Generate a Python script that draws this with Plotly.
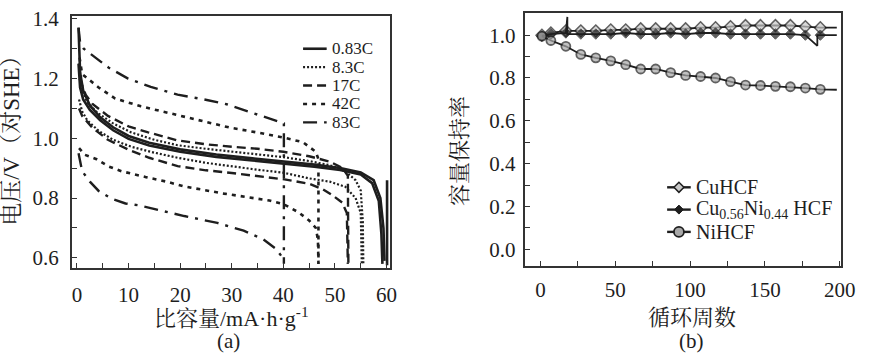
import plotly.graph_objects as go

W, H = 873, 356
FONT = "Liberation Serif, Noto Serif CJK SC, Noto Sans CJK SC, serif"
INK = "#1e1e1e"

# ---------------- panel (a): voltage vs specific capacity ----------------
rates = ["0.83C", "8.3C", "17C", "42C", "83C"]

c083_up_x = [0.3, 0.6, 1.2, 2.5, 4.5, 7, 10, 14, 20, 27, 34, 40, 46, 51, 55, 57.5, 58.8, 59.4, 59.6]
c083_up_y = [1.37, 1.22, 1.16, 1.11, 1.07, 1.037, 1.008, 0.985, 0.963, 0.946, 0.933, 0.923, 0.912, 0.901, 0.886, 0.86, 0.80, 0.70, 0.59]
c083_lo_x = [0.3, 0.6, 1.2, 2.5, 4.5, 7, 10, 14, 20, 27, 34, 40, 46, 51, 55, 57.2, 58.5, 59.0, 59.2]
c083_lo_y = [1.25, 1.17, 1.13, 1.095, 1.06, 1.027, 0.998, 0.976, 0.955, 0.938, 0.926, 0.916, 0.905, 0.894, 0.879, 0.85, 0.79, 0.68, 0.58]
c083_end_x = [60.1, 60.1]
c083_end_y = [0.86, 0.575]

c83_up_x = [0.4, 1, 2, 4, 7, 10.5, 15, 19.5, 25, 30, 35, 40, 45, 49, 52, 54, 55, 55.4, 55.5]
c83_up_y = [1.25, 1.16, 1.12, 1.085, 1.05, 1.02, 0.995, 0.977, 0.965, 0.955, 0.946, 0.937, 0.924, 0.91, 0.89, 0.86, 0.825, 0.72, 0.58]
c83_lo_x = [0.4, 1, 2, 4.2, 7, 10.5, 15, 19.5, 25, 30, 35, 40, 45, 49, 52, 54, 55, 55.2]
c83_lo_y = [1.13, 1.09, 1.06, 1.025, 0.995, 0.972, 0.952, 0.935, 0.918, 0.906, 0.895, 0.885, 0.866, 0.855, 0.838, 0.80, 0.75, 0.58]

c17_up_x = [0.5, 1.7, 3, 6, 10, 13.8, 19.5, 25, 30, 35, 40, 45, 49, 51.5, 52.5, 52.6]
c17_up_y = [1.2, 1.145, 1.115, 1.075, 1.04, 1.02, 0.993, 0.98, 0.972, 0.965, 0.955, 0.94, 0.922, 0.9, 0.875, 0.58]
c17_lo_x = [0.4, 1, 3, 6, 10, 14, 19.5, 25, 30, 35, 40.5, 45, 47.6, 49.5, 51.4, 52.3, 52.5]
c17_lo_y = [1.1, 1.075, 1.035, 0.995, 0.962, 0.935, 0.907, 0.893, 0.884, 0.874, 0.862, 0.848, 0.83, 0.81, 0.785, 0.75, 0.58]

c42_up_x = [0.5, 1, 4.2, 7.4, 12.4, 17.6, 23.9, 29.6, 34.8, 39.9, 43.8, 46.3, 46.8, 46.8]
c42_up_y = [1.27, 1.215, 1.17, 1.133, 1.107, 1.085, 1.06, 1.036, 1.02, 1.003, 0.987, 0.955, 0.93, 0.58]
c42_lo_x = [0.4, 1.5, 3.8, 6.1, 8.6, 10.9, 13.4, 17.6, 20.5, 28.5, 33, 37.3, 40, 43, 45, 46.3, 46.7, 46.8]
c42_lo_y = [0.967, 0.945, 0.93, 0.906, 0.89, 0.88, 0.87, 0.854, 0.84, 0.815, 0.803, 0.792, 0.78, 0.752, 0.725, 0.70, 0.66, 0.58]

c830_up_x = [0.3, 0.6, 1.3, 6.1, 9.9, 14.3, 19.5, 24.7, 29, 34.2, 38.6, 40.1, 40.1]
c830_up_y = [1.37, 1.32, 1.30, 1.237, 1.2, 1.172, 1.146, 1.13, 1.114, 1.085, 1.059, 1.05, 0.58]
c830_lo_x = [0.3, 1, 2.5, 4.2, 6.7, 9.4, 11.9, 14.3, 17, 20.8, 27.2, 32.3, 36.1, 38.6, 40]
c830_lo_y = [0.95, 0.89, 0.855, 0.824, 0.798, 0.782, 0.776, 0.766, 0.756, 0.74, 0.717, 0.691, 0.662, 0.63, 0.597]

curves = {
    "0.83C": [(c083_up_x, c083_up_y), (c083_lo_x, c083_lo_y), (c083_end_x, c083_end_y)],
    "8.3C": [(c83_up_x, c83_up_y), (c83_lo_x, c83_lo_y)],
    "17C": [(c17_up_x, c17_up_y), (c17_lo_x, c17_lo_y)],
    "42C": [(c42_up_x, c42_up_y), (c42_lo_x, c42_lo_y)],
    "83C": [(c830_up_x, c830_up_y), (c830_lo_x, c830_lo_y)],
}
styles = {
    "0.83C": dict(dash="solid", width=2.6),
    "8.3C": dict(dash="2px,2px", width=2.2),
    "17C": dict(dash="9px,5px", width=2.4),
    "42C": dict(dash="4px,5px", width=2.6),
    "83C": dict(dash="14px,7px,3px,7px", width=2.4),
}

# ---------------- panel (b): capacity retention vs cycle number ----------------
cycles = [1, 7, 17, 27, 37, 47, 57, 67, 77, 87, 97, 107, 117, 127, 137, 147, 157, 167, 177, 187, 198]
cuhcf = [1.0, 1.01, 1.02, 1.02, 1.02, 1.025, 1.025, 1.03, 1.03, 1.03, 1.03, 1.035, 1.035, 1.04, 1.045,
         1.045, 1.045, 1.045, 1.04, 1.035, 1.035]
nihcf = [0.995, 0.975, 0.948, 0.91, 0.894, 0.88, 0.862, 0.842, 0.842, 0.825, 0.812, 0.807, 0.8, 0.783,
         0.767, 0.765, 0.761, 0.759, 0.753, 0.747, 0.745]
# Cu0.56Ni0.44 HCF, including the two single-cycle spikes visible near cycles 18 and 185
cuni_cycles = [1, 7, 17, 18, 18, 27, 37, 47, 57, 67, 77, 87, 97, 107, 117, 127, 137, 147, 157, 167, 177,
               185, 185, 187, 198]
cuni = [0.995, 1.005, 1.01, 1.085, 1.005, 1.005, 1.005, 1.005, 1.01, 1.005, 1.005, 1.01, 1.005, 1.01,
        1.01, 1.005, 1.005, 1.005, 1.005, 1.005, 1.0, 0.95, 1.0, 1.0, 1.0]
cuni_marked = [True, True, True, False, False] + [True] * 16 + [False, False, True, False]

series_b = [
    ("CuHCF", cycles, cuhcf, [True] * 20 + [False],
     dict(symbol="diamond", size=9, color="#c8c8c8", line=dict(color=INK, width=1.5))),
    ("Cu<sub>0.56</sub>Ni<sub>0.44</sub> HCF", cuni_cycles, cuni, cuni_marked,
     dict(symbol="diamond", size=8, color=INK, line=dict(color=INK, width=1))),
    ("NiHCF", cycles, nihcf, [True] * 20 + [False],
     dict(symbol="circle", size=9, color="#a8a8a8", line=dict(color=INK, width=1.8))),
]

fig = go.Figure()

for r in rates:
    xs, ys = [], []
    for sx, sy in curves[r]:
        xs += list(sx) + [None]
        ys += list(sy) + [None]
    fig.add_trace(go.Scatter(x=xs, y=ys, mode="lines", name=r, showlegend=False,
                             connectgaps=False, line=dict(color=INK, **styles[r]),
                             xaxis="x", yaxis="y"))

for name, xv, vals, marked, mk in series_b:
    m = dict(mk)
    m["size"] = [mk["size"] if f else 0 for f in marked]
    fig.add_trace(go.Scatter(x=xv, y=vals, mode="lines+markers", name=name, showlegend=False,
                             line=dict(color=INK, width=1.8), marker=m,
                             xaxis="x2", yaxis="y2"))


def px_x(p):
    return p / W


def px_y(p):
    return 1 - p / H


axis_common = dict(showline=True, mirror=True, linecolor="#333", linewidth=1.6,
                   ticks="inside", ticklen=5, tickwidth=1.3, tickcolor="#333",
                   showgrid=False, zeroline=False, ticklabeloverflow="allow",
                   tickfont=dict(family=FONT, size=21, color=INK))
minor_common = dict(ticks="inside", ticklen=5, tickcolor="#333")

fig.update_layout(
    width=W, height=H,
    margin=dict(l=0, r=0, t=0, b=0),
    paper_bgcolor="white", plot_bgcolor="white",
    font=dict(family=FONT, color=INK),
    showlegend=False,
    xaxis=dict(domain=[px_x(73), px_x(396)], range=[-1, 60.6], dtick=10, tick0=0,
               ticklabelstandoff=7, minor=dict(dtick=5, **minor_common), **axis_common),
    yaxis=dict(domain=[px_y(267), px_y(7)], range=[0.567, 1.41], dtick=0.2, tick0=0.6,
               tickformat=".1f", ticklabelstandoff=7,
               minor=dict(dtick=0.1, **minor_common), **axis_common),
    xaxis2=dict(domain=[px_x(534), px_x(855)], range=[-10, 201], dtick=50, tick0=0,
                ticklabelstandoff=4, minor=dict(dtick=25, **minor_common),
                anchor="y2", **axis_common),
    yaxis2=dict(domain=[px_y(265), px_y(4)], range=[-0.077, 1.104], dtick=0.2, tick0=0,
                tickformat=".1f", ticklabelstandoff=4,
                minor=dict(dtick=0.1, **minor_common), anchor="x2", **axis_common),
)

# legend of panel (a): line swatch + label per rate
leg_rows_a = [41, 60, 79, 98, 117]
for r, py in zip(rates, leg_rows_a):
    fig.add_shape(type="line", xref="paper", yref="paper",
                  x0=px_x(308), x1=px_x(332), y0=px_y(py), y1=px_y(py),
                  line=dict(color=INK, **styles[r]))
    fig.add_annotation(text=r, xref="paper", yref="paper", x=px_x(335), y=px_y(py),
                       xanchor="left", yanchor="middle", showarrow=False,
                       font=dict(family=FONT, size=17, color=INK))

# legend of panel (b): line swatch + marker + label per series
leg_rows_b = [184, 207, 230]
for (name, _, _, _, mk), py in zip(series_b, leg_rows_b):
    fig.add_shape(type="line", xref="paper", yref="paper",
                  x0=px_x(678), x1=px_x(702), y0=px_y(py), y1=px_y(py),
                  line=dict(color=INK, width=2.4))
    s = mk["size"] / 2 + 0.5
    if mk["symbol"] == "circle":
        fig.add_shape(type="circle", xref="paper", yref="paper",
                      xsizemode="pixel", ysizemode="pixel",
                      xanchor=px_x(690), yanchor=px_y(py),
                      x0=-s, x1=s, y0=-s, y1=s,
                      fillcolor=mk["color"], line=dict(color=INK, width=mk["line"]["width"]))
    else:
        fig.add_shape(type="path", xref="paper", yref="paper",
                      xsizemode="pixel", ysizemode="pixel",
                      xanchor=px_x(690), yanchor=px_y(py),
                      path=f"M 0 {s} L {s} 0 L 0 {-s} L {-s} 0 Z",
                      fillcolor=mk["color"], line=dict(color=INK, width=mk["line"]["width"]))
    fig.add_annotation(text=name, xref="paper", yref="paper", x=px_x(705), y=px_y(py),
                       xanchor="left", yanchor="middle", showarrow=False,
                       font=dict(family=FONT, size=20, color=INK))

titles = [
    ("电压/V（对SHE）", 12, 130, -90, 23),
    ("比容量/mA·h·g<sup>-1</sup>", 235, 318, 0, 22),
    ("(a)", 232, 343, 0, 21),
    ("容量保持率", 467, 147, -90, 22),
    ("循环周数", 703, 318, 0, 22),
    ("(b)", 703, 343, 0, 21),
]
for t, x, y, ang, fs in titles:
    fig.add_annotation(text=t, xref="paper", yref="paper", x=px_x(x), y=px_y(y),
                       xanchor="center", yanchor="middle", showarrow=False, textangle=ang,
                       font=dict(family=FONT, size=fs, color=INK))

# the page body has a default 8px margin; remove it so the 873x356 figure fills the window
fig.write_html("out.html", config={"displayModeBar": False},
               post_script="document.body.style.margin='0';")
